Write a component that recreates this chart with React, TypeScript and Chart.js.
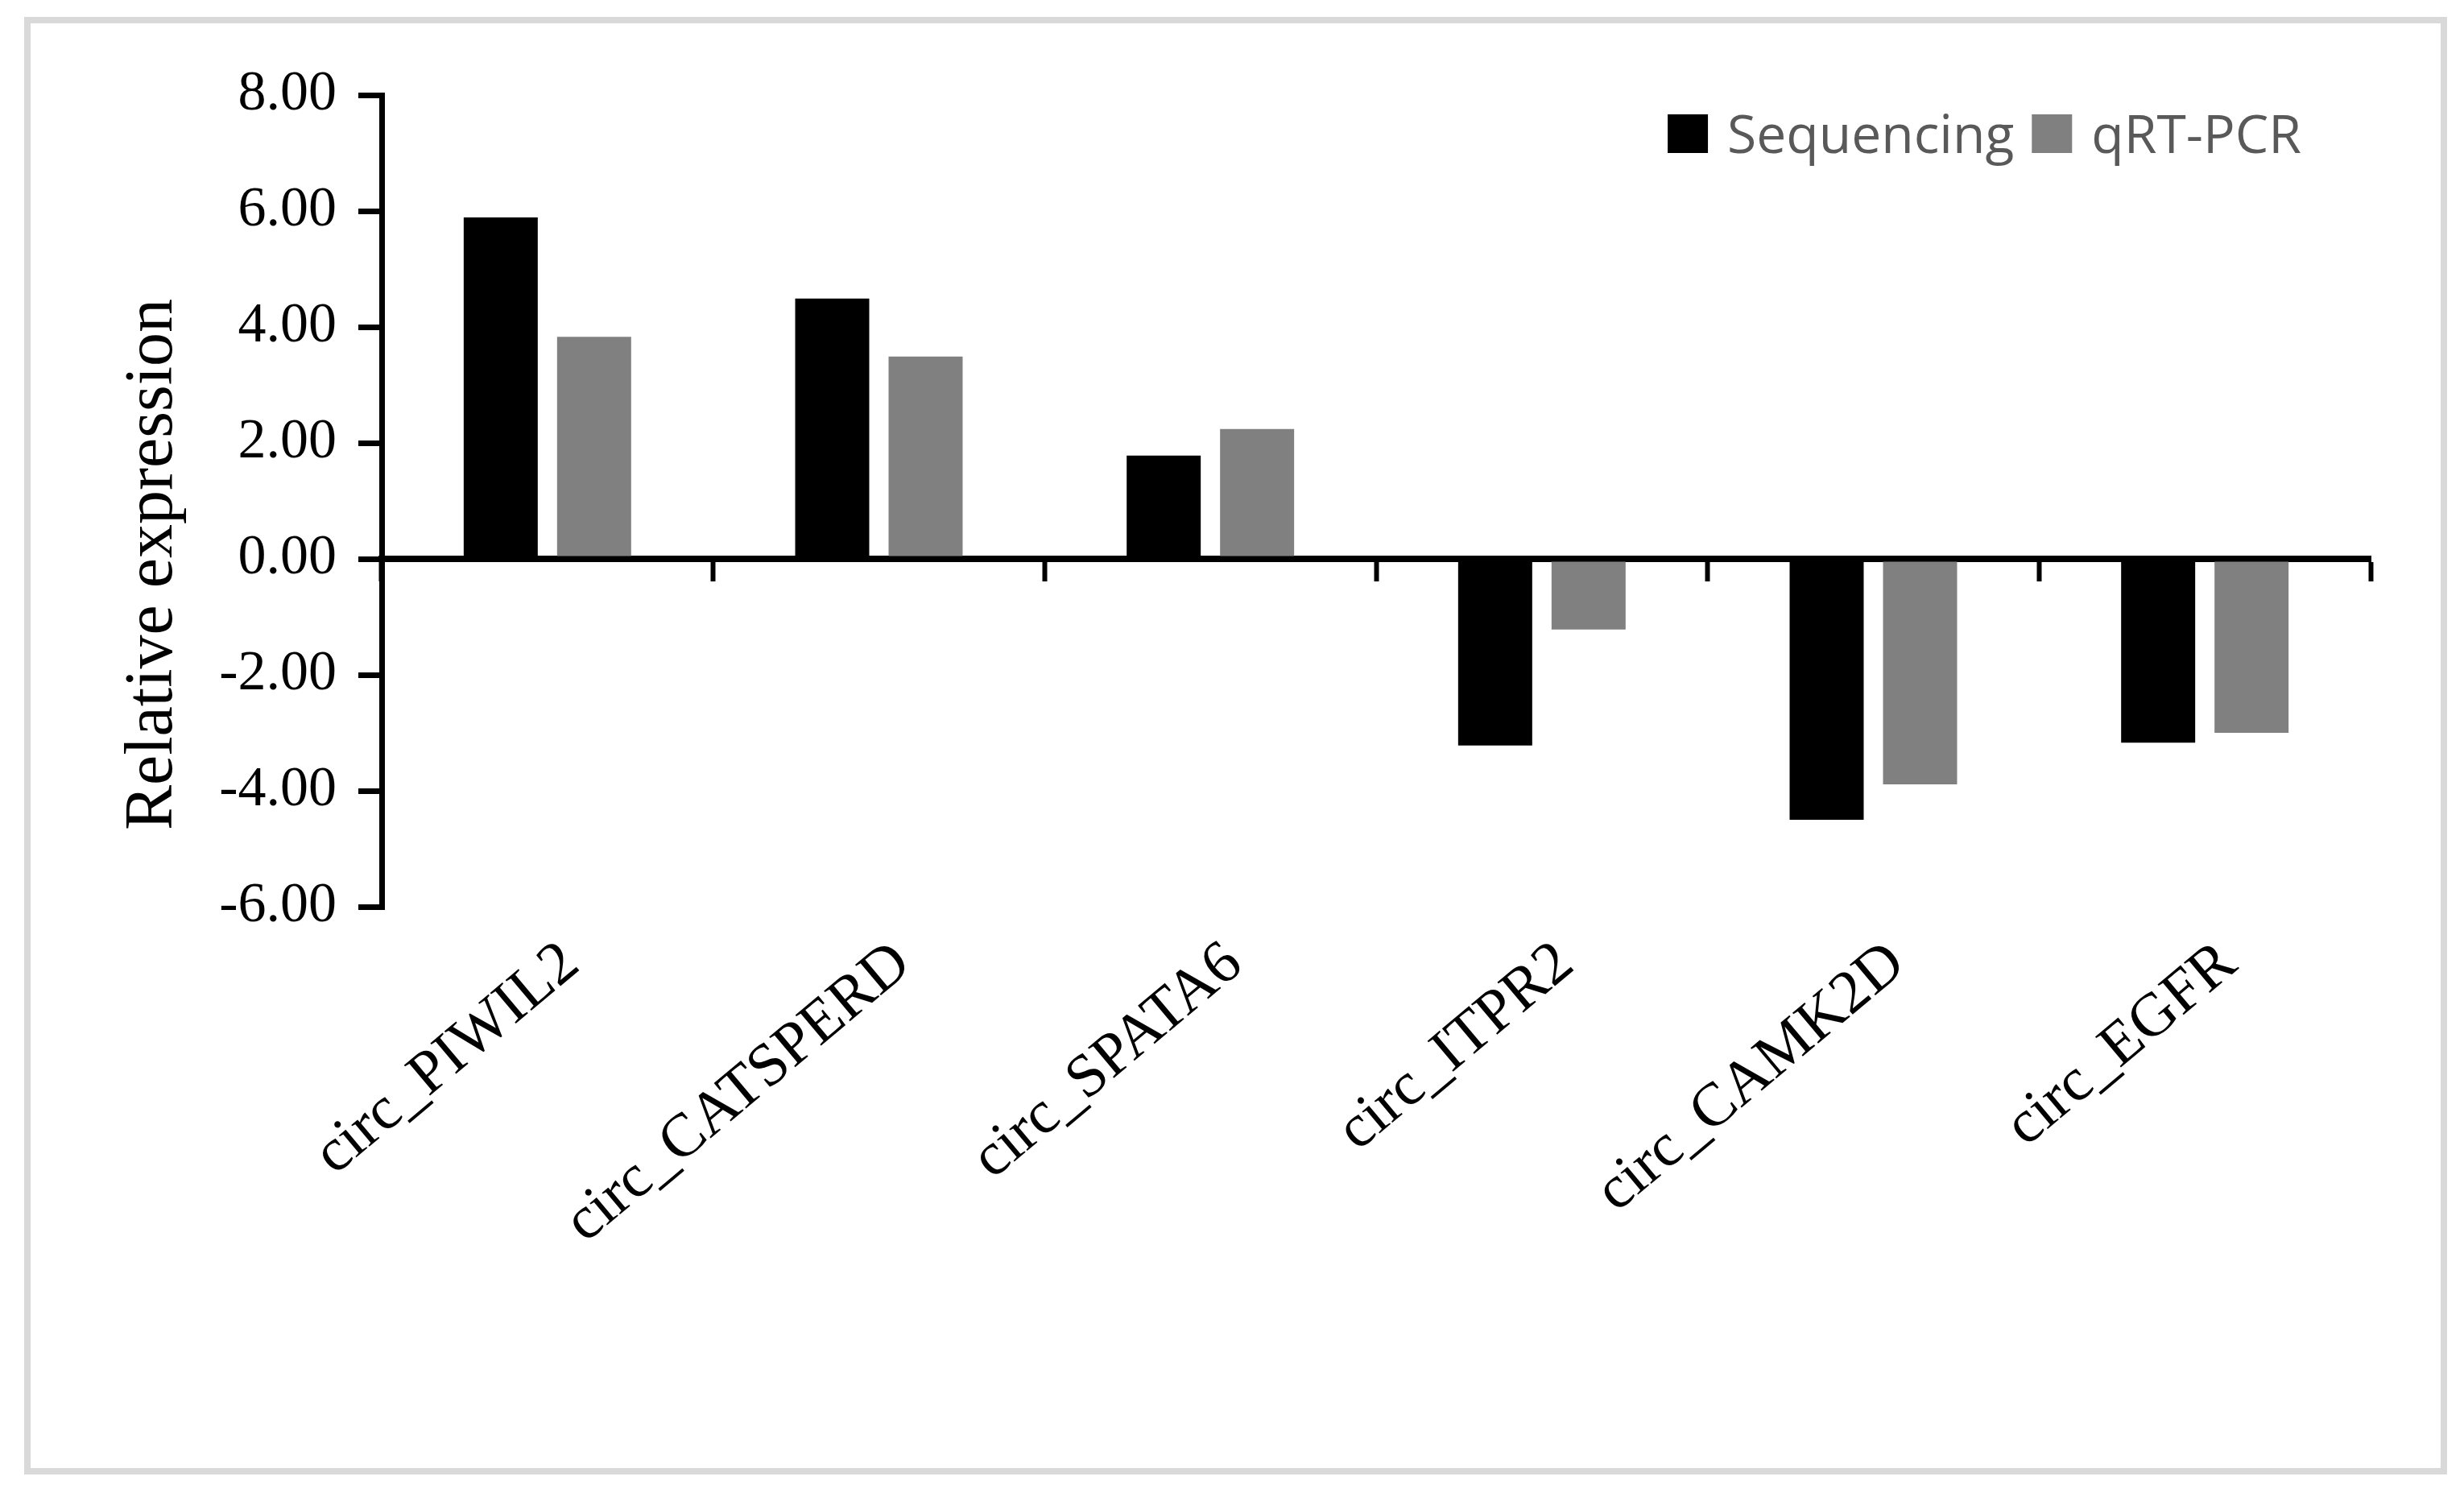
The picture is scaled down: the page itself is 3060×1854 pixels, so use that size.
import React, { useEffect, useRef } from 'react';
import { Chart, registerables } from 'chart.js';

Chart.register(...registerables);

const categories = ['circ_PIWIL2', 'circ_CATSPERD', 'circ_SPATA6', 'circ_ITPR2', 'circ_CAMK2D', 'circ_EGFR'];
const sequencing = [5.89, 4.49, 1.78, -3.22, -4.5, -3.17];
const qrtpcr = [3.83, 3.49, 2.24, -1.22, -3.89, -3.0];
const seriesNames = ['Sequencing', 'qRT-PCR'];
const seriesColors = ['#000000', '#808080'];
const yMin = -6;
const yMax = 8;
const yStep = 2;
const yTitle = 'Relative expression';

const W = 3060;
const H = 1854;
const SERIF = '"Liberation Serif", "Times New Roman", serif';

const yTitlePlugin = {
  id: 'yTitleCustom',
  afterDraw(chart: any) {
    const { ctx, chartArea } = chart;
    ctx.save();
    ctx.font = '84px "Liberation Serif"';
    ctx.fillStyle = '#000';
    ctx.textAlign = 'center';
    ctx.textBaseline = 'alphabetic';
    const cy = (chartArea.top + chartArea.bottom) / 2 + 79;
    ctx.translate(chartArea.left - 261, cy);
    ctx.rotate(-Math.PI / 2);
    ctx.fillText(yTitle, 0, 0);
    ctx.restore();
  },
};

const legendPlugin = {
  id: 'insideLegend',
  afterDraw(chart: any) {
    const { ctx, chartArea } = chart;
    ctx.save();
    ctx.font = '66px "Open Sans"';
    const boxW = 50;
    const boxH = 48;
    const gapText = 24;
    const gapItem = 22;
    const items = chart.data.datasets.map((d: any) => ({
      label: d.label,
      color: d.backgroundColor,
      w: ctx.measureText(d.label).width,
    }));
    const total =
      items.reduce((s: number, it: any) => s + boxW + gapText + it.w, 0) + gapItem * (items.length - 1);
    let x = chartArea.right - 86 - total;
    const top = chartArea.top + 24;
    for (const it of items) {
      ctx.fillStyle = it.color;
      ctx.fillRect(x, top, boxW, boxH);
      x += boxW + gapText;
      ctx.fillStyle = '#595959';
      ctx.textAlign = 'left';
      ctx.textBaseline = 'alphabetic';
      ctx.fillText(it.label, x, top + boxH);
      x += it.w + gapItem;
    }
    ctx.restore();
  },
};

export default function App() {
  const ref = useRef<HTMLCanvasElement | null>(null);

  useEffect(() => {
    if (!ref.current) return;
    const chart = new Chart(ref.current, {
      type: 'bar',
      data: {
        labels: categories,
        datasets: [
          {
            label: seriesNames[0],
            data: sequencing,
            backgroundColor: seriesColors[0],
            borderWidth: 0,
            xAxisID: 'x',
            yAxisID: 'y',
            categoryPercentage: 0.5635,
            barPercentage: 0.793,
          },
          {
            label: seriesNames[1],
            data: qrtpcr,
            backgroundColor: seriesColors[1],
            borderWidth: 0,
            xAxisID: 'x',
            yAxisID: 'y',
            categoryPercentage: 0.5635,
            barPercentage: 0.793,
          },
        ],
      },
      options: {
        animation: false,
        responsive: false,
        devicePixelRatio: 1,
        layout: { padding: { left: 0, top: 118, right: 116, bottom: 0 } },
        plugins: {
          legend: { display: false },
          tooltip: { enabled: false },
          title: { display: false },
        },
        scales: {
          y: {
            type: 'linear',
            position: 'left',
            min: yMin,
            max: yMax,
            ticks: {
              stepSize: yStep,
              callback: (v: any) => Number(v).toFixed(2),
              font: { family: SERIF, size: 70 },
              color: '#000',
              padding: 27,
            },
            grid: {
              display: true,
              drawOnChartArea: false,
              drawTicks: true,
              tickLength: 29,
              tickWidth: 7,
              tickColor: '#000',
              color: '#000',
              lineWidth: 7,
            },
            border: { display: true, color: '#000', width: 7 },
            afterFit: (s: any) => {
              s.width = 474;
            },
          },
          x: {
            type: 'category',
            position: { y: 0 } as any,
            offset: true,
            z: 1,
            ticks: { display: false },
            grid: {
              display: true,
              offset: true,
              drawOnChartArea: false,
              drawTicks: true,
              tickLength: 24,
              tickWidth: 6,
              tickColor: '#000',
              color: '#000',
            },
            border: { display: true, color: '#000', width: 8 },
            afterFit: (s: any) => {
              s.height = 0;
            },
          },
          x2: {
            type: 'category',
            position: 'bottom',
            offset: true,
            grid: { display: false, drawTicks: false },
            border: { display: false },
            ticks: {
              autoSkip: false,
              maxRotation: 40,
              minRotation: 40,
              labelOffset: 30,
              padding: 26,
              font: { family: SERIF, size: 76 },
              color: '#000',
            },
            afterFit: (s: any) => {
              s.height = 728;
            },
          },
        },
      } as any,
      plugins: [yTitlePlugin, legendPlugin],
    });
    return () => chart.destroy();
  }, []);

  return (
    <div style={{ position: 'absolute', left: 0, top: 0, width: W, height: H, background: '#fff', overflow: 'hidden' }}>
      <div
        style={{
          position: 'absolute',
          left: 30,
          top: 21,
          width: 3009,
          height: 1810,
          boxSizing: 'border-box',
          border: '8px solid #d9d9d9',
        }}
      />
      <canvas
        ref={ref}
        width={W}
        height={H}
        style={{ position: 'absolute', left: 0, top: 0, width: W, height: H }}
      />
    </div>
  );
}
